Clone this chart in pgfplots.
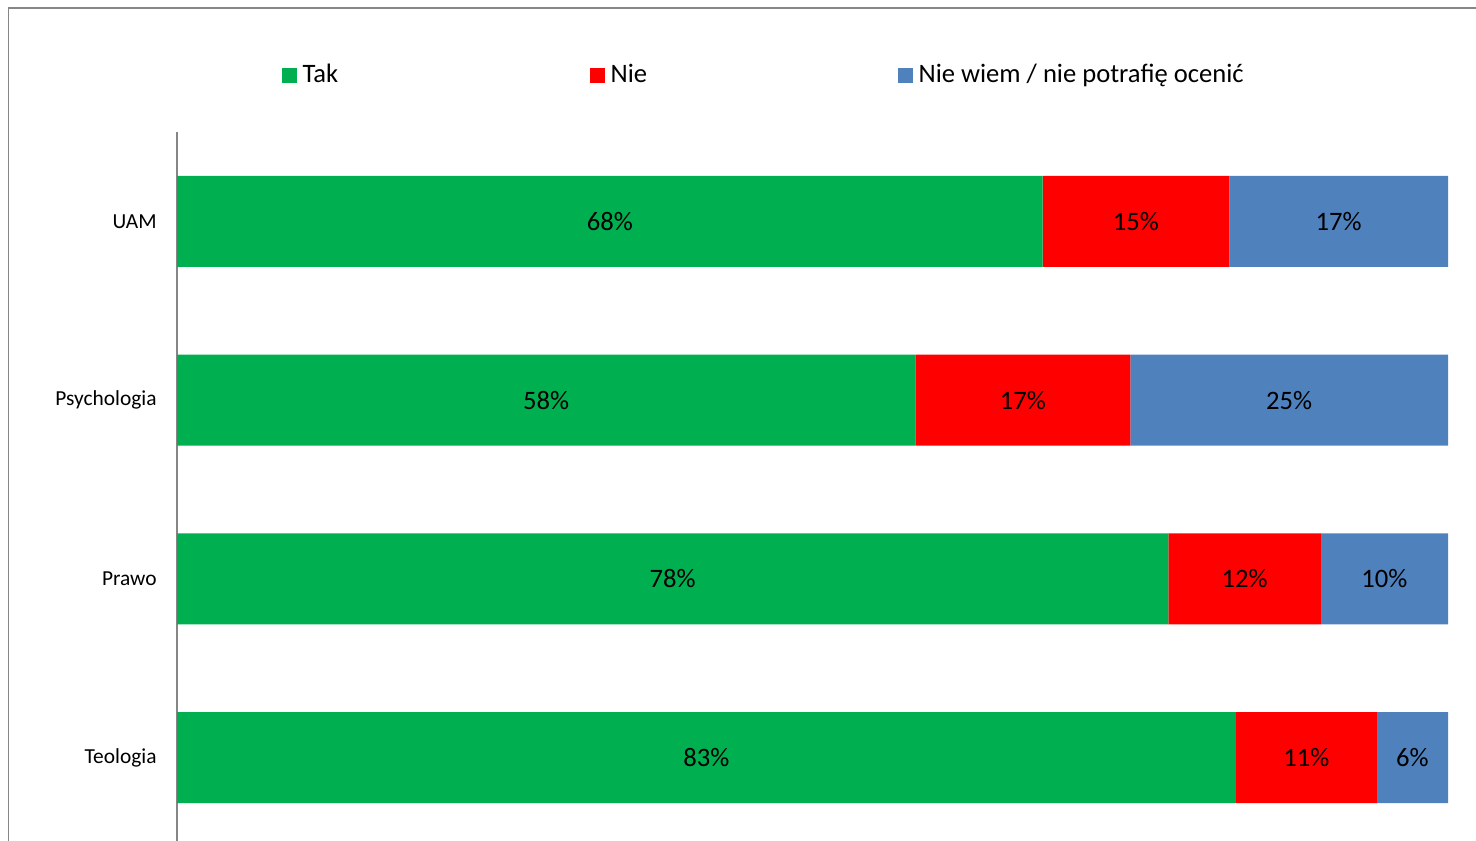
\documentclass[border=0pt]{standalone}
\usepackage{pgfplots}
\usepackage{pgfplotstable}
\pgfplotsset{compat=1.18}
\usepackage{fontspec}
\setmainfont{Carlito}

\definecolor{tak}{HTML}{00B050}
\definecolor{nie}{HTML}{FF0000}
\definecolor{nw}{HTML}{4F81BD}
\definecolor{frame}{HTML}{868686}

% rows from bottom (0) to top (3)
\pgfplotstableread{
y tak nie nw
0 83.3 11.1 5.6
1 78.0 12.0 10.0
2 58.1 16.9 25.0
3 68.1 14.7 17.2
}\wyniki

\begin{document}
\begin{tikzpicture}
\useasboundingbox (0,0) rectangle (738pt,420pt);
\clip (0,0) rectangle (738pt,420pt);
\draw[frame, line width=0.9pt] (4.2pt,-20pt) rectangle (800pt,415.8pt);
\begin{axis}[
  at={(88.5pt,-3.5pt)}, anchor=south west,
  scale only axis,
  width=635.5pt, height=357.5pt,
  xbar stacked,
  bar width=45.5pt,
  xmin=0, xmax=100,
  ymin=-0.5, ymax=3.5,
  ytick={0,1,2,3},
  yticklabels={Teologia,Prawo,Psychologia,UAM},
  major tick length=0pt,
  yticklabel style={font=\fontsize{10.7}{12}\selectfont, anchor=east, inner sep=0pt, xshift=-10pt},
  axis x line=none,
  axis y line*=left,
  y axis line style={frame, line width=0.9pt, -},
  /pgf/number format/assume math mode=true,
  nodes near coords={\pgfmathprintnumber[fixed, precision=0]{\pgfplotspointmeta}\%},
  every node near coord/.append style={font=\fontsize{13.3}{15}\selectfont, anchor=center},
  point meta=explicit,
  legend columns=3,
  legend style={draw=none, fill=none, inner sep=0pt,
    at={(axis description cs:0.0826,1.0797)}, anchor=west,
    nodes={inner sep=0pt, font=\fontsize{13.3}{15}\selectfont}},
  legend image code/.code={\fill[#1] (0pt,-3.75pt) rectangle (7.5pt,3.75pt);},
]
\addplot[fill=tak, draw=none] table[x=tak, y=y, meta=tak] {\wyniki};
\addlegendentry{\hspace*{2.6pt}\makebox[143.9pt][l]{Tak}}
\addplot[fill=nie, draw=none] table[x=nie, y=y, meta=nie] {\wyniki};
\addlegendentry{\hspace*{2.6pt}\makebox[143.9pt][l]{Nie}}
\addplot[fill=nw, draw=none] table[x=nw, y=y, meta=nw] {\wyniki};
\addlegendentry{\hspace*{2.6pt}Nie wiem / nie potrafię ocenić}
\end{axis}
\end{tikzpicture}
\end{document}
